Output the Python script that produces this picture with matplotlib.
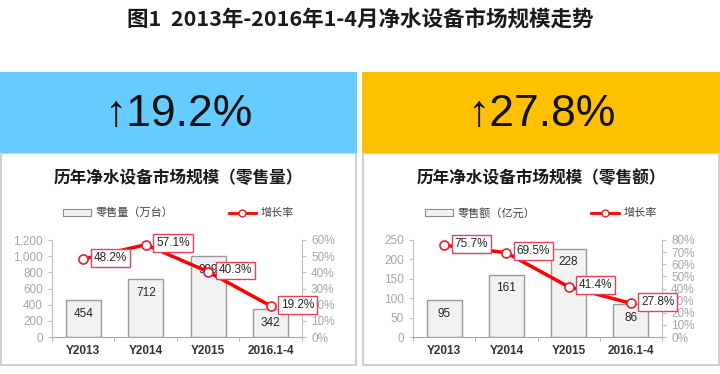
import matplotlib
matplotlib.use("Agg")
import matplotlib.pyplot as plt
from matplotlib.patches import Rectangle
from matplotlib.lines import Line2D
from matplotlib.ticker import FuncFormatter, MultipleLocator, FixedLocator
import numpy as np

plt.rcParams['font.family'] = ['Noto Sans CJK SC', 'DejaVu Sans']

categories = ["Y2013", "Y2014", "Y2015", "2016.1-4"]
volume = [454, 712, 999, 342]          # 零售量（万台）
volume_growth = [48.2, 57.1, 40.3, 19.2]
sales = [95, 161, 228, 86]              # 零售额（亿元）
sales_growth = [75.7, 69.5, 41.4, 27.8]

headline = ["↑19.2%", "↑27.8%"]
panel_titles = ["历年净水设备市场规模（零售量）", "历年净水设备市场规模（零售额）"]
bar_names = ["零售量（万台）", "零售额（亿元）"]
line_name = "增长率"

W, H = 720, 374
fig = plt.figure(figsize=(7.2, 3.74), dpi=100)

def fx(px):
    return px / W

def fy(py):
    return 1 - py / H

fig.text(0.5, fy(20), "图1  2013年-2016年1-4月净水设备市场规模走势",
         ha='center', va='center', fontsize=15.5, fontweight='bold', color='#1a1a1a')

panels = [
    dict(x0=0, x1=357, color='#66CCFF', bars=volume, growth=volume_growth,
         ymax=1200, ystep=200, rmax=60, ax=(52, 302), thousands=True),
    dict(x0=362, x1=720, color='#FFC000', bars=sales, growth=sales_growth,
         ymax=250, ystep=50, rmax=80, ax=(413, 662), thousands=False),
]

for i, p in enumerate(panels):
    # white box with grey border
    fig.patches.append(Rectangle((fx(p['x0'] + 1), fy(365)), fx(p['x1'] - p['x0'] - 2), fy(153) - fy(365),
                                 transform=fig.transFigure, facecolor='white',
                                 edgecolor='#D0D0D0', linewidth=1.5, zorder=0))
    # coloured header
    fig.patches.append(Rectangle((fx(p['x0']), fy(153)), fx(p['x1'] - p['x0']), fy(72) - fy(153),
                                 transform=fig.transFigure, facecolor=p['color'],
                                 edgecolor='none', zorder=1))
    cx = fx((p['x0'] + p['x1']) / 2)
    fig.text(cx, fy(114), headline[i], ha='center', va='center', fontsize=32,
             family=['Liberation Sans', 'DejaVu Sans'], color='#111111', zorder=3)
    fig.text(cx, fy(178), panel_titles[i], ha='center', va='center', fontsize=12,
             fontweight='bold', color='#1a1a1a', zorder=3)

    left, right = p['ax']
    ax = fig.add_axes([fx(left), fy(337), fx(right - left), fy(240) - fy(337)])
    ax.set_zorder(5)
    x = np.arange(len(categories))
    ax.bar(x, p['bars'], width=0.56, color='#F2F2F2', edgecolor='#999999', linewidth=1.0, zorder=2)
    for xi, v in zip(x, p['bars']):
        ax.annotate(str(v), (xi, v), xytext=(0, -10), textcoords='offset points',
                    ha='center', va='center', fontsize=8.5, color='#262626',
                    family=['Liberation Sans', 'DejaVu Sans'], zorder=3)
    ax.set_xlim(-0.5, len(categories) - 0.5)
    ax.set_ylim(0, p['ymax'])
    ax.yaxis.set_major_locator(MultipleLocator(p['ystep']))
    if p['thousands']:
        ax.yaxis.set_major_formatter(FuncFormatter(lambda v, _: f"{int(v):,}"))
    ax.set_xticks(x)
    ax.set_xticklabels(categories, fontsize=8.5, color='#333333', fontweight='bold',
                       family=['Liberation Sans', 'DejaVu Sans'])
    ax.xaxis.set_minor_locator(FixedLocator(np.arange(-0.5, len(categories), 1.0)))
    ax.tick_params(axis='x', which='major', length=0, pad=6)
    ax.tick_params(axis='x', which='minor', length=3, color='#A6A6A6')
    ax.tick_params(axis='y', length=3, color='#BFBFBF', labelcolor='#A6A6A6', labelsize=8.5)
    for lab in ax.get_yticklabels():
        lab.set_family(['Liberation Sans', 'DejaVu Sans'])
    for s in ['top', 'right']:
        ax.spines[s].set_visible(False)
    ax.spines['left'].set_color('#BFBFBF')
    ax.spines['bottom'].set_color('#A6A6A6')
    ax.patch.set_alpha(0)

    ax2 = ax.twinx()
    ax2.set_zorder(6)
    ax2.patch.set_alpha(0)
    ax2.plot(x, p['growth'], color='#FF0000', linewidth=2.5, marker='o', markersize=6.5,
             markerfacecolor='white', markeredgecolor='#E8202A', markeredgewidth=1.2, zorder=4)
    for xi, g in zip(x, p['growth']):
        ax2.annotate(f"{g:.1f}%", (xi, g), xytext=(7.5, 1), textcoords='offset points',
                     ha='left', va='center', fontsize=8.5, color='#262626',
                     family=['Liberation Sans', 'DejaVu Sans'],
                     bbox=dict(boxstyle='square,pad=0.25', facecolor='white',
                               edgecolor='#E8405A', linewidth=1.0), zorder=5)
    ax2.set_ylim(0, p['rmax'])
    ax2.yaxis.set_major_locator(MultipleLocator(10))
    ax2.yaxis.set_major_formatter(FuncFormatter(lambda v, _: f"{int(v)}%"))
    ax2.tick_params(axis='y', length=3, color='#BFBFBF', labelcolor='#A6A6A6', labelsize=8.5)
    for lab in ax2.get_yticklabels():
        lab.set_family(['Liberation Sans', 'DejaVu Sans'])
    for s in ['top', 'left', 'bottom']:
        ax2.spines[s].set_visible(False)
    ax2.spines['right'].set_color('#BFBFBF')

    # legend
    handles = [Rectangle((0, 0), 1, 1, facecolor='#F2F2F2', edgecolor='#8C8C8C', linewidth=0.8),
               Line2D([0], [0], color='#FF0000', linewidth=2, marker='o', markersize=5,
                      markerfacecolor='white', markeredgecolor='#E8202A')]
    leg = fig.legend(handles, [bar_names[i], line_name], loc='center',
                     bbox_to_anchor=(cx, fy(213)), ncol=2, frameon=False, fontsize=8,
                     columnspacing=5, handlelength=2.5, handleheight=0.6, handletextpad=0.4,
                     labelcolor='#404040')
    leg.set_zorder(4)

fig.savefig("out.png", dpi=100)
